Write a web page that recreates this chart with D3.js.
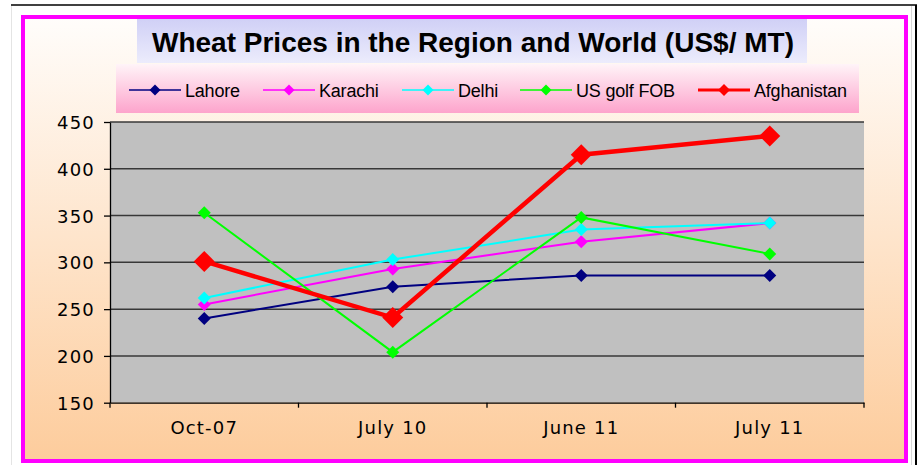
<!DOCTYPE html>
<html><head><meta charset="utf-8">
<script src="https://cdn.jsdelivr.net/npm/d3@7"></script>
<style>body{margin:0;background:#fff}svg{display:block}</style>
</head><body>
<script>
const categories = ["Oct-07", "July 10", "June 11", "July 11"];
const yTicks = [150, 200, 250, 300, 350, 400, 450];
const lahore = [240, 274, 286, 286];
const karachi = [255, 293, 322, 342];
const delhi = [262, 303, 335, 342];
const usGolf = [353, 204, 348, 309];
const afghanistan = [301, 241, 415, 435];
const seriesNames = ["Lahore", "Karachi", "Delhi", "US golf FOB", "Afghanistan"];
const seriesColors = ["#000080", "#ff00ff", "#00ffff", "#00ff00", "#ff0000"];
const seriesValues = [lahore, karachi, delhi, usGolf, afghanistan];

(function(){
const W = 920, H = 465;
const svg = d3.select("body").append("svg").attr("width", W).attr("height", H);
const defs = svg.append("defs");
const g1 = defs.append("linearGradient").attr("id","bgGrad").attr("x1",0).attr("y1",0).attr("x2",0).attr("y2",1);
g1.append("stop").attr("offset","0%").attr("stop-color","#fffdfb");
g1.append("stop").attr("offset","100%").attr("stop-color","#fdcc9c");
const g2 = defs.append("linearGradient").attr("id","titleGrad").attr("x1",0).attr("y1",0).attr("x2",0).attr("y2",1);
g2.append("stop").attr("offset","0%").attr("stop-color","#d0d0f6");
g2.append("stop").attr("offset","100%").attr("stop-color","#ececfc");
const g3 = defs.append("linearGradient").attr("id","legGrad").attr("x1",0).attr("y1",0).attr("x2",0).attr("y2",1);
g3.append("stop").attr("offset","0%").attr("stop-color","#fff4f8");
g3.append("stop").attr("offset","100%").attr("stop-color","#fda4cc");

// outer frame lines
svg.append("line").attr("x1",11).attr("x2",917).attr("y1",5).attr("y2",5).attr("stroke","#000").attr("stroke-width",1.5);
svg.append("line").attr("x1",916).attr("x2",916).attr("y1",5).attr("y2",H).attr("stroke","#000").attr("stroke-width",2);
svg.append("line").attr("x1",11.5).attr("x2",11.5).attr("y1",6).attr("y2",H).attr("stroke","#e4e4e4").attr("stroke-width",1);
svg.append("line").attr("x1",911.5).attr("x2",911.5).attr("y1",6).attr("y2",H).attr("stroke","#d8d8d8").attr("stroke-width",1);

// magenta border with gradient
svg.append("rect").attr("x",23).attr("y",17).attr("width",883).attr("height",444)
  .attr("fill","url(#bgGrad)").attr("stroke","#ff00ff").attr("stroke-width",4);

// plot area
const pL = 110, pR = 864, pT = 122, pB = 402.7;
const x = d3.scaleBand().domain(categories).range([pL, pR]).paddingInner(0).paddingOuter(0);
const y = d3.scaleLinear().domain([150, 450]).range([pB, pT]);

svg.append("rect").attr("x",pL).attr("y",pT).attr("width",pR-pL).attr("height",pB-pT).attr("fill","#c0c0c0");

// gridlines
svg.append("g").selectAll("line").data(yTicks.filter(d=>d>150)).join("line")
  .attr("x1",pL).attr("x2",pR).attr("y1",d=>y(d)).attr("y2",d=>y(d))
  .attr("stroke","#383838").attr("stroke-width",1.5);

// y axis
const yAxis = svg.append("g").attr("transform",`translate(${pL},0)`)
  .call(d3.axisLeft(y).tickValues(yTicks).tickSize(6).tickPadding(9).tickSizeOuter(0));
yAxis.select(".domain").attr("stroke","#000").attr("stroke-width",1.3);
yAxis.selectAll(".tick line").attr("stroke","#000").attr("stroke-width",1.3);
yAxis.selectAll("text").attr("font-family","'DejaVu Sans', Verdana, sans-serif").attr("font-size",18)
  .attr("fill","#000").attr("letter-spacing",1.2).attr("dy","0.36em");

// x axis
const xAxis = svg.append("g").attr("transform",`translate(0,${pB})`)
  .call(d3.axisBottom(x).tickSize(0).tickPadding(19).tickSizeOuter(0));
xAxis.select(".domain").attr("stroke","#000").attr("stroke-width",1.3);
xAxis.selectAll("text").attr("font-family","'DejaVu Sans', Verdana, sans-serif").attr("font-size",18)
  .attr("fill","#000").attr("letter-spacing",1.2);
const bounds = categories.map(c=>x(c)).concat([pR]);
svg.append("g").selectAll("line").data(bounds).join("line")
  .attr("x1",d=>d).attr("x2",d=>d).attr("y1",pB).attr("y2",pB+5)
  .attr("stroke","#000").attr("stroke-width",1.3);

// series
const cx = c => x(c) + x.bandwidth()/2;
const line = d3.line().x((d,i)=>cx(categories[i])).y(d=>y(d));
const diamond = (s) => `M0,${-s}L${s},0L0,${s}L${-s},0Z`;
seriesValues.forEach((vals, si) => {
  const isAfg = si === 4;
  const gS = svg.append("g");
  gS.append("path").datum(vals).attr("d", line).attr("fill","none")
    .attr("stroke", seriesColors[si]).attr("stroke-width", isAfg ? 4.5 : 2);
  gS.selectAll("path.m").data(vals).join("path").attr("class","m")
    .attr("transform",(d,i)=>`translate(${cx(categories[i])},${y(d)})`)
    .attr("d", diamond(isAfg ? 10.5 : 6.5)).attr("fill", seriesColors[si]);
});

// title
svg.append("rect").attr("x",137).attr("y",19).attr("width",670).attr("height",44).attr("fill","url(#titleGrad)");
svg.append("text").attr("x",473).attr("y",52).attr("text-anchor","middle")
  .attr("font-family","'Liberation Sans', Arial, sans-serif").attr("font-weight","bold").attr("font-size",28)
  .attr("fill","#000").text("Wheat Prices in the Region and World (US$/ MT)");

// legend
svg.append("rect").attr("x",116).attr("y",64).attr("width",743).attr("height",49).attr("fill","url(#legGrad)");
const legX = [129, 263, 402, 520, 698];
const leg = svg.append("g");
seriesNames.forEach((n, i) => {
  const isAfg = i === 4;
  const gx = legX[i], gy = 90;
  leg.append("line").attr("x1",gx).attr("x2",gx+52).attr("y1",gy).attr("y2",gy)
    .attr("stroke",seriesColors[i]).attr("stroke-width", isAfg ? 3 : 1.5);
  leg.append("path").attr("transform",`translate(${gx+26},${gy})`).attr("d",diamond(isAfg?6:5.5)).attr("fill",seriesColors[i]);
  leg.append("text").attr("x",gx+56).attr("y",gy+6.5)
    .attr("font-family","'Liberation Sans', Arial, sans-serif").attr("font-size",18)
    .attr("letter-spacing",-0.2).attr("fill","#000").text(n);
});
})();
</script>
</body></html>
